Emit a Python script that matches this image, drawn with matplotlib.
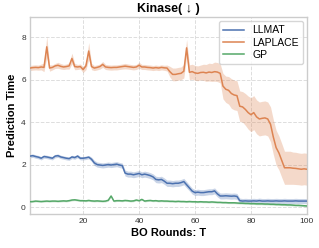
import matplotlib.pyplot as plt
import numpy as np

plt.rcParams['font.family'] = ['Liberation Sans', 'DejaVu Sans']

rounds = np.arange(1, 101)

laplace_mean = [6.55, 6.57, 6.58, 6.57, 6.60, 6.58, 7.55, 6.55, 6.58, 6.65,
                6.68, 6.63, 6.60, 6.62, 6.65, 7.00, 6.62, 6.60, 6.62, 6.48,
                6.65, 7.35, 6.62, 6.55, 6.58, 6.62, 6.72, 6.60, 6.58, 6.57,
                6.58, 6.58, 6.60, 6.62, 6.64, 6.62, 6.60, 6.58, 6.60, 6.68,
                6.60, 6.60, 6.58, 6.57, 6.55, 6.57, 6.55, 6.58, 6.56, 6.55,
                6.38, 6.25, 6.25, 6.28, 6.30, 6.40, 7.50, 6.35, 6.38, 6.32,
                6.30, 6.34, 6.35, 6.32, 6.36, 6.34, 6.38, 6.36, 6.30, 5.70,
                5.55, 5.50, 5.35, 5.28, 5.25, 4.75, 4.72, 4.60, 4.45, 4.35,
                4.45, 4.25, 4.15, 4.18, 4.20, 4.15, 3.90, 3.30, 2.80, 2.55,
                2.20, 1.85, 1.85, 1.85, 1.83, 1.82, 1.80, 1.78, 1.80, 1.78]
laplace_std = [0.12, 0.12, 0.12, 0.12, 0.14, 0.20, 0.50, 0.15, 0.12, 0.12,
               0.14, 0.13, 0.12, 0.12, 0.15, 0.25, 0.15, 0.12, 0.12, 0.14,
               0.18, 0.40, 0.15, 0.12, 0.12, 0.12, 0.14, 0.12, 0.12, 0.12,
               0.12, 0.12, 0.12, 0.12, 0.13, 0.12, 0.12, 0.12, 0.12, 0.14,
               0.12, 0.12, 0.12, 0.12, 0.12, 0.12, 0.12, 0.12, 0.12, 0.14,
               0.25, 0.30, 0.30, 0.30, 0.30, 0.32, 0.40, 0.35, 0.35, 0.35,
               0.35, 0.35, 0.38, 0.40, 0.42, 0.42, 0.45, 0.45, 0.45, 0.60,
               0.62, 0.65, 0.70, 0.70, 0.70, 0.72, 0.72, 0.75, 0.78, 0.80,
               0.80, 0.80, 0.80, 0.80, 0.80, 0.80, 0.82, 0.82, 0.82, 0.80,
               0.80, 0.78, 0.78, 0.78, 0.76, 0.76, 0.75, 0.75, 0.75, 0.75]

llmat_mean = [2.40, 2.42, 2.38, 2.35, 2.30, 2.38, 2.36, 2.33, 2.30, 2.40,
              2.42, 2.36, 2.33, 2.30, 2.28, 2.36, 2.33, 2.40, 2.30, 2.30,
              2.32, 2.35, 2.25, 2.08, 2.00, 1.98, 1.96, 1.98, 2.00, 1.98,
              2.00, 2.02, 1.98, 1.95, 1.60, 1.55, 1.55, 1.52, 1.55, 1.58,
              1.52, 1.55, 1.52, 1.48, 1.42, 1.30, 1.28, 1.30, 1.22, 1.12,
              1.12, 1.10, 1.12, 1.12, 1.15, 1.20, 1.05, 0.90, 0.75, 0.68,
              0.70, 0.68, 0.68, 0.70, 0.72, 0.72, 0.76, 0.62, 0.52, 0.52,
              0.53, 0.52, 0.51, 0.52, 0.50, 0.30, 0.28, 0.29, 0.28, 0.28,
              0.29, 0.28, 0.30, 0.28, 0.28, 0.29, 0.28, 0.28, 0.29, 0.28,
              0.28, 0.29, 0.28, 0.28, 0.28, 0.29, 0.28, 0.28, 0.28, 0.28]
llmat_std = [0.08, 0.08, 0.08, 0.08, 0.08, 0.08, 0.08, 0.08, 0.08, 0.08,
             0.08, 0.08, 0.08, 0.08, 0.08, 0.08, 0.08, 0.08, 0.08, 0.08,
             0.08, 0.08, 0.10, 0.12, 0.12, 0.12, 0.12, 0.12, 0.12, 0.12,
             0.12, 0.12, 0.12, 0.12, 0.14, 0.14, 0.14, 0.14, 0.14, 0.14,
             0.14, 0.14, 0.14, 0.14, 0.14, 0.15, 0.15, 0.15, 0.15, 0.15,
             0.15, 0.15, 0.15, 0.15, 0.15, 0.15, 0.15, 0.14, 0.14, 0.14,
             0.14, 0.14, 0.14, 0.14, 0.14, 0.14, 0.14, 0.14, 0.14, 0.14,
             0.14, 0.14, 0.14, 0.14, 0.14, 0.12, 0.12, 0.12, 0.12, 0.12,
             0.12, 0.12, 0.12, 0.12, 0.12, 0.12, 0.12, 0.12, 0.12, 0.12,
             0.12, 0.12, 0.12, 0.12, 0.12, 0.12, 0.12, 0.12, 0.12, 0.12]

gp_mean = [0.25, 0.26, 0.28, 0.27, 0.26, 0.27, 0.28, 0.27, 0.28, 0.28,
           0.27, 0.28, 0.29, 0.28, 0.30, 0.33, 0.34, 0.32, 0.30, 0.30,
           0.29, 0.31, 0.29, 0.28, 0.29, 0.28, 0.27, 0.28, 0.32, 0.52,
           0.28, 0.30, 0.30, 0.29, 0.31, 0.30, 0.28, 0.29, 0.33, 0.30,
           0.36, 0.28, 0.30, 0.31, 0.29, 0.30, 0.28, 0.29, 0.28, 0.28,
           0.27, 0.27, 0.26, 0.27, 0.26, 0.26, 0.25, 0.26, 0.25, 0.25,
           0.24, 0.25, 0.24, 0.24, 0.23, 0.24, 0.23, 0.22, 0.22, 0.21,
           0.21, 0.20, 0.20, 0.20, 0.19, 0.18, 0.18, 0.17, 0.17, 0.16,
           0.16, 0.15, 0.15, 0.15, 0.14, 0.14, 0.13, 0.13, 0.12, 0.12,
           0.11, 0.11, 0.10, 0.10, 0.09, 0.08, 0.08, 0.07, 0.06, 0.05]
gp_std = [0.04] * 100

fig, ax = plt.subplots(figsize=(3.19, 2.48), dpi=100)
fig.subplots_adjust(left=0.094, right=0.962, bottom=0.137, top=0.931)

series = [("LLMAT", llmat_mean, llmat_std, "#4c72b0"),
          ("LAPLACE", laplace_mean, laplace_std, "#dd8452"),
          ("GP", gp_mean, gp_std, "#55a868")]
for name, m, s, c in series:
    m = np.array(m)
    s = np.array(s)
    ax.plot(rounds, m, color=c, lw=1.1, label=name, zorder=3)
    ax.fill_between(rounds, m - s, m + s, color=c, alpha=0.3, lw=0, zorder=2)

ax.set_xlim(1, 100)
ax.set_ylim(-0.33, 8.95)
ax.set_xticks([20, 40, 60, 80, 100])
ax.set_yticks([0, 2, 4, 6, 8])
ax.tick_params(labelsize=6, length=0, pad=3, colors='#333333')
ax.grid(True, linestyle='--', color='#dddddd', lw=0.7, zorder=0)
for sp in ax.spines.values():
    sp.set_color('#cccccc')
    sp.set_linewidth(1.0)

ax.set_title("Kinase( ↓ )", fontsize=9, fontweight='bold', pad=4)
ax.set_xlabel("BO Rounds: T", fontsize=8, fontweight='bold', labelpad=2)
ax.set_ylabel("Prediction Time", fontsize=8, fontweight='bold', labelpad=3)
ax.legend(loc='upper right', fontsize=7.5, frameon=True, edgecolor='#cccccc',
          handlelength=2.0, borderaxespad=0.4, labelspacing=0.2)

plt.savefig('out.png', dpi=100)
